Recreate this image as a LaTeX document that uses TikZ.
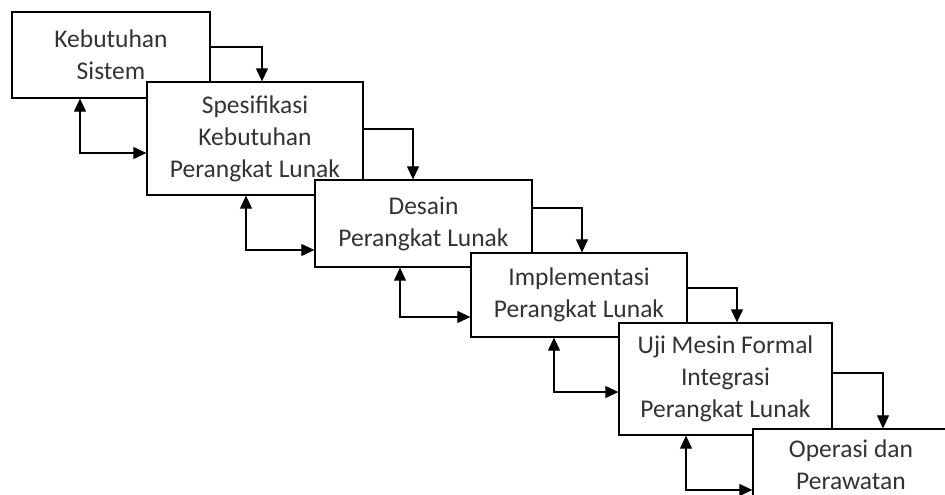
\documentclass[tikz,border=0pt]{standalone}
\usepackage{fontspec}
\setmainfont{Carlito}
\usetikzlibrary{arrows.meta}
\begin{document}
\begin{tikzpicture}[x=1pt, y=-1pt,
    stage/.style={draw, line width=1.3pt, fill=white, align=center, inner sep=0pt,
        font=\fontsize{25.5}{32}\selectfont, text=black!80},
    flow/.style={line width=1.1pt, -{Triangle[length=13pt,width=12pt]}},
    back/.style={line width=1.1pt, {Triangle[length=13pt,width=12pt]}-{Triangle[length=13pt,width=12pt]}}]
    \useasboundingbox (0,0) rectangle (945,495);
    \clip (0,0) rectangle (945,495);
    \node[stage, minimum width=198pt, minimum height=86pt] (k1) at (111,55) {Kebutuhan\\Sistem};
    \node[stage, minimum width=216pt, minimum height=113pt] (k2) at (255,138.5) {Spesifikasi\\Kebutuhan\\Perangkat Lunak};
    \node[stage, minimum width=217pt, minimum height=87pt] (k3) at (423.5,223.5) {Desain\\Perangkat Lunak};
    \node[stage, minimum width=216pt, minimum height=84pt] (k4) at (579,295) {Implementasi\\Perangkat Lunak};
    \node[stage, minimum width=213pt, minimum height=112pt] (k5) at (725.5,379) {Uji Mesin Formal\\Integrasi\\Perangkat Lunak};
    \node[stage, minimum width=196pt, minimum height=72pt] (k6) at (851,465) {Operasi dan\\Perawatan};
    \draw[flow] ([yshift=8pt]k1.east) -| ([xshift=7pt]k2.north);
    \draw[flow] ([yshift=9.5pt]k2.east) -| ([xshift=-10.5pt]k3.north);
    \draw[flow] ([yshift=15.5pt]k3.east) -| ([xshift=3pt]k4.north);
    \draw[flow] ([yshift=7pt]k4.east) -| ([xshift=11.5pt]k5.north);
    \draw[flow] ([yshift=6pt]k5.east) -| ([xshift=32pt]k6.north);
    \draw[back] ([xshift=-31pt]k1.south) |- ([yshift=-14.5pt]k2.west);
    \draw[back] ([xshift=-9pt]k2.south) |- ([yshift=-26.5pt]k3.west);
    \draw[back] ([xshift=-23.5pt]k3.south) |- ([yshift=-22pt]k4.west);
    \draw[back] ([xshift=-25pt]k4.south) |- ([yshift=-13pt]k5.west);
    \draw[back] ([xshift=-39.5pt]k5.south) |- ([yshift=-25pt]k6.west);
\end{tikzpicture}
\end{document}
